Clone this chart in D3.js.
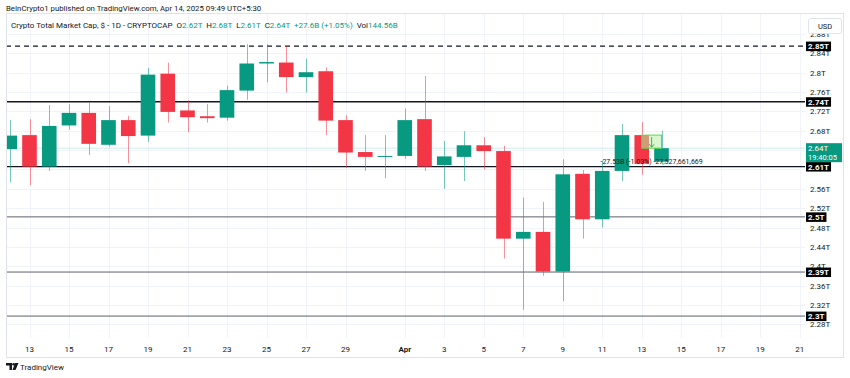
<!DOCTYPE html>
<html>
<head>
<meta charset="utf-8">
<script src="https://cdn.jsdelivr.net/npm/d3@7"></script>
<style>
  body { margin: 0; background: #fff; }
  svg { display: block; }
  text { font-family: Roboto, "Noto Sans", sans-serif; }
</style>
</head>
<body>
<svg width="850" height="378"></svg>
<script>
// daily candles, values in trillions USD
const days = ["2025-03-12","2025-03-13","2025-03-14","2025-03-15","2025-03-16","2025-03-17",
  "2025-03-18","2025-03-19","2025-03-20","2025-03-21","2025-03-22","2025-03-23","2025-03-24",
  "2025-03-25","2025-03-26","2025-03-27","2025-03-28","2025-03-29","2025-03-30","2025-03-31",
  "2025-04-01","2025-04-02","2025-04-03","2025-04-04","2025-04-05","2025-04-06","2025-04-07",
  "2025-04-08","2025-04-09","2025-04-10","2025-04-11","2025-04-12","2025-04-13","2025-04-14"];
const open  = [2.642,2.671,2.606,2.691,2.717,2.651,2.702,2.670,2.798,2.722,2.710,2.707,2.763,
  2.819,2.821,2.791,2.803,2.702,2.636,2.626,2.628,2.704,2.609,2.626,2.650,2.638,2.457,2.471,
  2.389,2.591,2.497,2.597,2.671,2.616];
const high  = [2.702,2.704,2.733,2.735,2.739,2.731,2.711,2.810,2.821,2.743,2.735,2.773,2.859,
  2.859,2.855,2.829,2.811,2.712,2.671,2.671,2.726,2.793,2.659,2.679,2.667,2.649,2.542,2.533,
  2.621,2.599,2.618,2.694,2.698,2.680];
const low   = [2.573,2.568,2.597,2.682,2.630,2.647,2.613,2.657,2.697,2.677,2.697,2.701,2.744,
  2.780,2.759,2.759,2.671,2.603,2.597,2.582,2.622,2.597,2.560,2.576,2.600,2.416,2.310,2.380,
  2.328,2.457,2.480,2.576,2.589,2.610];
const close = [2.670,2.606,2.690,2.717,2.653,2.702,2.669,2.796,2.719,2.708,2.706,2.764,2.819,
  2.822,2.791,2.801,2.701,2.635,2.626,2.628,2.702,2.606,2.627,2.650,2.638,2.457,2.471,2.389,
  2.590,2.497,2.597,2.671,2.612,2.644];

// horizontal levels drawn on the chart
const levels      = [2.855, 2.74, 2.606, 2.502, 2.388, 2.297];
const levelLabels = ["2.85T","2.74T","2.61T","2.5T","2.39T","2.3T"];
const levelStyle  = ["dash","dark","dark","gray","gray","gray"];

const yTicks = [2.28,2.32,2.36,2.4,2.44,2.48,2.52,2.56,2.6,2.64,2.68,2.72,2.76,2.8,2.84,2.88];
const xTicks = ["2025-03-13","2025-03-15","2025-03-17","2025-03-19","2025-03-21","2025-03-23",
  "2025-03-25","2025-03-27","2025-03-29","2025-04-01","2025-04-03","2025-04-05","2025-04-07",
  "2025-04-09","2025-04-11","2025-04-13","2025-04-15","2025-04-17","2025-04-19","2025-04-21"];

const lastPrice = 2.644;
const lastLabel = "2.64T";
const countdown = "19:40:05";

// price range tool
const measureFrom = "2025-04-13", measureTo = "2025-04-14";
const measureP0 = 2.671, measureP1 = 2.644;
const measureText = "-27.53B (-1.03%) -27,527,661,669";

const UP = "#089981", DOWN = "#f23645";
const pane = { left: 6, right: 805, top: 14, bottom: 338 };

const parse = d3.utcParse("%Y-%m-%d");
const x = d3.scaleUtc()
  .domain([parse("2025-03-13"), parse("2025-04-14")])
  .range([29.5, 661.5]);
const y = d3.scaleLinear().domain([2.28, 2.8]).range([324.3, 72.7]);
const step = x(parse("2025-03-14")) - x(parse("2025-03-13"));
const bw = step * 0.74;

const svg = d3.select("svg");

// frame
svg.append("rect")
  .attr("x", 6.5).attr("y", 13.5).attr("width", 837).attr("height", 344)
  .attr("fill", "none").attr("stroke", "#e0e3eb");

svg.append("defs").append("clipPath").attr("id", "pane")
  .append("rect")
  .attr("x", pane.left + 1).attr("y", pane.top)
  .attr("width", pane.right - pane.left - 1).attr("height", pane.bottom - pane.top);

const grid = svg.append("g").attr("clip-path", "url(#pane)");
grid.selectAll(".vg").data(xTicks).enter().append("line")
  .attr("x1", d => Math.round(x(parse(d))) + 0.5).attr("x2", d => Math.round(x(parse(d))) + 0.5)
  .attr("y1", pane.top).attr("y2", pane.bottom)
  .attr("stroke", "#f0f3fa");
grid.selectAll(".hg").data(yTicks).enter().append("line")
  .attr("x1", pane.left).attr("x2", pane.right)
  .attr("y1", d => Math.round(y(d)) + 0.5).attr("y2", d => Math.round(y(d)) + 0.5)
  .attr("stroke", "#f0f3fa");

// last price line
grid.append("line")
  .attr("x1", pane.left).attr("x2", pane.right)
  .attr("y1", y(lastPrice)).attr("y2", y(lastPrice))
  .attr("stroke", UP).attr("stroke-opacity", 0.18);

// level lines
grid.selectAll(".lvl").data(levels).enter().append("line")
  .attr("x1", pane.left).attr("x2", pane.right + 2)
  .attr("y1", d => y(d)).attr("y2", d => y(d))
  .attr("stroke", (d, i) => levelStyle[i] === "gray" ? "#5d606b" : "#131722")
  .attr("stroke-width", (d, i) => levelStyle[i] === "gray" ? 1 : 1.3)
  .attr("stroke-dasharray", (d, i) => levelStyle[i] === "dash" ? "5,4" : null);

// candles
const candles = days.map((d, i) => ({ date: parse(d), o: open[i], h: high[i], l: low[i], c: close[i] }));
const cg = grid.append("g");
cg.selectAll(".wick").data(candles).enter().append("line")
  .attr("x1", d => Math.round(x(d.date)) + 0.5).attr("x2", d => Math.round(x(d.date)) + 0.5)
  .attr("y1", d => y(d.h)).attr("y2", d => y(d.l))
  .attr("stroke", d => d.c >= d.o ? UP : DOWN).attr("stroke-opacity", 0.55);
cg.selectAll(".body").data(candles).enter().append("rect")
  .attr("x", d => x(d.date) - bw / 2)
  .attr("width", bw)
  .attr("y", d => y(Math.max(d.o, d.c)))
  .attr("height", d => Math.max(1, Math.abs(y(d.o) - y(d.c))))
  .attr("fill", d => d.c >= d.o ? UP : DOWN);

// price range tool
const mx0 = x(parse(measureFrom)), mx1 = x(parse(measureTo));
grid.append("rect")
  .attr("x", mx0).attr("y", y(measureP0))
  .attr("width", mx1 - mx0).attr("height", y(measureP1) - y(measureP0))
  .attr("fill", "#b6f0a8").attr("fill-opacity", 0.55)
  .attr("stroke", "#5fd84a").attr("stroke-width", 1);
const mxm = (mx0 + mx1) / 2;
grid.append("line")
  .attr("x1", mxm).attr("x2", mxm)
  .attr("y1", y(measureP0) + 2).attr("y2", y(measureP1) - 1)
  .attr("stroke", "#4caf50");
grid.append("path")
  .attr("d", `M${mxm - 2.5},${y(measureP1) - 4} L${mxm},${y(measureP1) - 1} L${mxm + 2.5},${y(measureP1) - 4}`)
  .attr("fill", "none").attr("stroke", "#4caf50");
grid.append("text")
  .attr("x", mxm).attr("y", y(measureP1) + 16)
  .attr("text-anchor", "middle").attr("font-size", 7).attr("fill", "#131722")
  .text(measureText);

// price axis labels (ones sitting right under a tag are hidden, like the terminal does)
const tagYs = levels.concat([lastPrice]).map(v => y(v));
svg.selectAll(".yt").data(yTicks.filter(v => tagYs.every(t => Math.abs(t - y(v)) > 4)))
  .enter().append("text")
  .attr("x", 810).attr("y", d => y(d) + 3)
  .attr("font-size", 8).attr("fill", "#131722")
  .text(d => d3.format(".2~f")(d) + "T");

// level price tags
levels.forEach((v, i) => {
  const g = svg.append("g");
  const t = g.append("text")
    .attr("x", 808).attr("y", y(v) + 3)
    .attr("font-size", 8).attr("font-weight", "bold").attr("fill", "#fff")
    .text(levelLabels[i]);
  const w = t.node().getComputedTextLength();
  g.insert("rect", "text")
    .attr("x", 806).attr("y", y(v) - 4.5)
    .attr("width", w + 4).attr("height", 9.5)
    .attr("fill", "#000");
});

// last price tag
svg.append("rect")
  .attr("x", 806).attr("y", y(lastPrice) - 5).attr("width", 36).attr("height", 19)
  .attr("fill", UP);
svg.append("text").attr("x", 808).attr("y", y(lastPrice) + 3)
  .attr("font-size", 8).attr("fill", "#fff").text(lastLabel);
svg.append("text").attr("x", 808).attr("y", y(lastPrice) + 12)
  .attr("font-size", 7.5).attr("fill", "#fff").text(countdown);

// currency box
svg.append("rect")
  .attr("x", 808.5).attr("y", 18.5).attr("width", 33).attr("height", 15).attr("rx", 2)
  .attr("fill", "#fff").attr("stroke", "#e0e3eb");
svg.append("text").attr("x", 825).attr("y", 29).attr("text-anchor", "middle")
  .attr("font-size", 7.5).attr("fill", "#131722").text("USD");

// time axis
svg.selectAll(".xt").data(xTicks).enter().append("text")
  .attr("x", d => x(parse(d))).attr("y", 352)
  .attr("text-anchor", "middle").attr("font-size", 8).attr("fill", "#131722")
  .attr("font-weight", d => d.endsWith("-01") ? "bold" : null)
  .text(d => d.endsWith("-01") ? d3.utcFormat("%b")(parse(d)) : +d.slice(8));

// header
svg.append("text").attr("x", 6).attr("y", 10.5).attr("font-size", 7.8).attr("fill", "#131722")
  .text("BeInCrypto1 published on TradingView.com, Apr 14, 2025 09:49 UTC+5:30");

const legend = svg.append("text").attr("x", 11).attr("y", 28).attr("font-size", 8).attr("fill", "#131722")
  .style("white-space", "pre");
const legendParts = [
  ["Crypto Total Market Cap, $ - 1D - CRYPTOCAP  ", "#131722"],
  ["O", "#131722"], ["2.62T  ", UP],
  ["H", "#131722"], ["2.68T  ", UP],
  ["L", "#131722"], ["2.61T  ", UP],
  ["C", "#131722"], ["2.64T  ", UP],
  ["+27.6B (+1.05%)  ", UP],
  ["Vol", "#131722"], ["144.56B", UP]
];
legendParts.forEach(p => legend.append("tspan").attr("fill", p[1]).text(p[0]));

// footer logo
const logo = svg.append("g").attr("transform", "translate(6,363)").attr("fill", "#131722");
logo.append("path").attr("d", "M0,0 H6 V7 H3.5 V2.5 H0 Z");
logo.append("circle").attr("cx", 7.6).attr("cy", 1.3).attr("r", 1.3);
logo.append("path").attr("d", "M9,0 H12.5 L9.5,7 H6.5 Z");
svg.append("text").attr("x", 20).attr("y", 370).attr("font-size", 8).attr("fill", "#131722")
  .text("TradingView");
</script>
</body>
</html>
